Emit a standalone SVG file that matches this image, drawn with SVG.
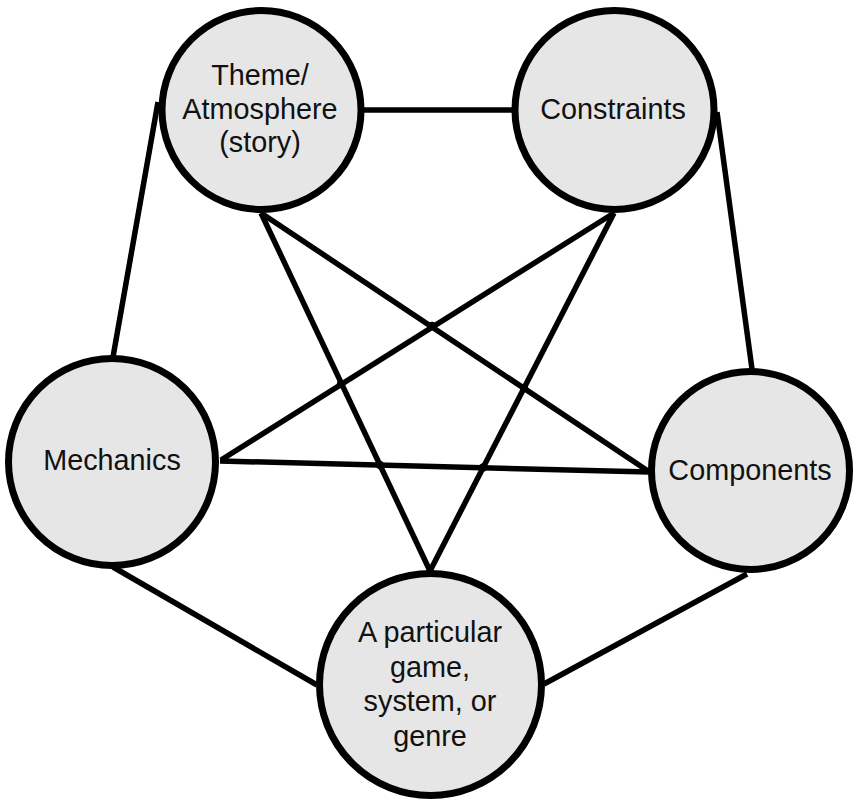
<svg xmlns="http://www.w3.org/2000/svg" width="854" height="801" viewBox="0 0 854 801">
  <style>
    .link { stroke: #000; stroke-width: 5.5; stroke-linecap: butt; fill: none; }
    .joint { fill: #000; }
    .node circle { fill: #e6e6e6; stroke: #000; stroke-width: 7; }
    .node text { font-family: "Liberation Sans", Arial, sans-serif; font-size: 28.8px; fill: #111; text-anchor: middle; }
  </style>
  <rect width="854" height="801" fill="#fff"/>

  <!-- connectors between the five aspects -->
  <g id="connectors">
    <line class="link" x1="362" y1="110" x2="514" y2="110"/>
    <line class="link" x1="158" y1="102" x2="113" y2="357"/>
    <line class="link" x1="717" y1="112" x2="752" y2="369"/>
    <line class="link" x1="113" y1="567" x2="317" y2="685"/>
    <line class="link" x1="544" y1="684" x2="747" y2="574"/>
    <line class="link" x1="220" y1="461" x2="649" y2="472"/>
    <line class="link" x1="221" y1="460" x2="614" y2="213"/>
    <line class="link" x1="261" y1="213" x2="648" y2="471"/>
    <line class="link" x1="261" y1="213" x2="430" y2="571"/>
    <line class="link" x1="614" y1="213" x2="430" y2="571"/>
    <!-- crossing points -->
    <circle class="joint" cx="432" cy="326" r="4.2"/>
    <circle class="joint" cx="524" cy="388" r="4.2"/>
    <circle class="joint" cx="341" cy="384" r="4.2"/>
    <circle class="joint" cx="380" cy="465" r="4.2"/>
    <circle class="joint" cx="483" cy="467.5" r="4.2"/>
  </g>

  <g id="theme" class="node">
    <circle cx="261.5" cy="110" r="99.5"/>
    <text x="260" y="85">Theme/</text>
    <text x="260" y="119">Atmosphere</text>
    <text x="260" y="152">(story)</text>
  </g>

  <g id="constraints" class="node">
    <circle cx="614.5" cy="110" r="99.5"/>
    <text x="613" y="119">Constraints</text>
  </g>

  <g id="mechanics" class="node">
    <circle cx="112" cy="462" r="103.5"/>
    <text x="112" y="470">Mechanics</text>
  </g>

  <g id="components" class="node">
    <circle cx="750.5" cy="470.5" r="99"/>
    <text x="750" y="480">Components</text>
  </g>

  <g id="particular" class="node">
    <circle cx="430.5" cy="684.5" r="111"/>
    <text x="430" y="642">A particular</text>
    <text x="430" y="676.5">game,</text>
    <text x="430" y="711">system, or</text>
    <text x="430" y="745.5">genre</text>
  </g>
</svg>
